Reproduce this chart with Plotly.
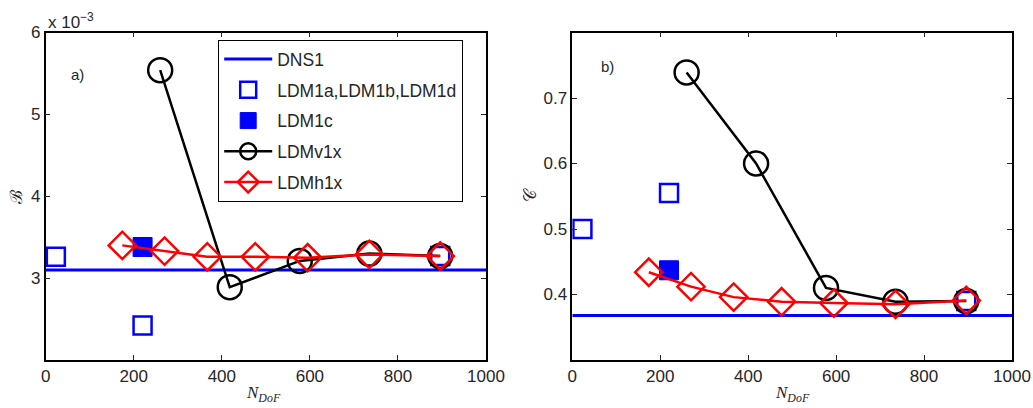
import plotly.graph_objects as go

# ---------------- data ----------------
dns_x = [0, 1000]
dns_B = [3.10, 3.10]
dns_C = [0.368, 0.368]

ldm_abd_x = [23, 220, 896]
ldm_abd_B = [3.26, 2.42, 3.27]
ldm_abd_C = [0.500, 0.555, 0.390]

ldm_c_x = [220]
ldm_c_B = [3.38]
ldm_c_C = [0.437]

v1x_x = [260, 418, 577, 735, 896]
v1x_B = [5.54, 2.89, 3.21, 3.30, 3.27]
v1x_C = [0.739, 0.600, 0.410, 0.389, 0.390]

h1x_x = [174, 270, 367, 476, 595, 735, 896]
h1x_B = [3.40, 3.33, 3.26, 3.26, 3.25, 3.29, 3.27]
h1x_C = [0.434, 0.412, 0.396, 0.389, 0.387, 0.385, 0.391]

x_ticks = [0, 200, 400, 600, 800, 1000]
B_ticks = [3, 4, 5, 6]
C_ticks = [0.4, 0.5, 0.6, 0.7]

BLUE = "#0000FF"
RED = "#FF0000"
BLACK = "#000000"

W, H = 1033, 408
OFF = 0  # body margin removed by post_script below


def px(x):
    return (x - OFF) / W


def py(y):
    return 1 - (y - OFF) / H


fig = go.Figure()


def add_panel(xa, ya, dns_y, abd_y, c_y, v_y, h_y, show):
    fig.add_trace(go.Scatter(x=dns_x, y=dns_y, mode="lines", name="DNS1", legendgroup="g1",
                             line=dict(color=BLUE, width=3), xaxis=xa, yaxis=ya,
                             showlegend=show))
    fig.add_trace(go.Scatter(x=ldm_abd_x, y=abd_y, mode="markers", name="LDM1a,LDM1b,LDM1d",
                             legendgroup="g2",
                             marker=dict(symbol="square-open", size=18, color=BLUE,
                                         line=dict(width=2.5, color=BLUE)),
                             xaxis=xa, yaxis=ya, showlegend=show))
    fig.add_trace(go.Scatter(x=ldm_c_x, y=c_y, mode="markers", name="LDM1c", legendgroup="g3",
                             marker=dict(symbol="square", size=19, color=BLUE,
                                         line=dict(width=1, color=BLUE)),
                             xaxis=xa, yaxis=ya, showlegend=show))
    fig.add_trace(go.Scatter(x=v1x_x, y=v_y, mode="lines+markers", name="LDMv1x", legendgroup="g4",
                             line=dict(color=BLACK, width=2.5),
                             marker=dict(symbol="circle-open", size=24, color=BLACK,
                                         line=dict(width=2.5, color=BLACK)),
                             xaxis=xa, yaxis=ya, showlegend=show))
    fig.add_trace(go.Scatter(x=h1x_x, y=h_y, mode="lines+markers", name="LDMh1x", legendgroup="g5",
                             line=dict(color=RED, width=2.5),
                             marker=dict(symbol="diamond-open", size=21, color=RED,
                                         line=dict(width=2.5, color=RED)),
                             xaxis=xa, yaxis=ya, showlegend=show))


add_panel("x", "y", dns_B, ldm_abd_B, ldm_c_B, v1x_B, h1x_B, True)
add_panel("x2", "y2", dns_C, ldm_abd_C, ldm_c_C, v1x_C, h1x_C, False)

SANS = "Liberation Sans, Arial, sans-serif"
font_main = dict(family=SANS, size=17, color="#262626")

axis_common = dict(showgrid=False, zeroline=False, showline=True, linecolor=BLACK,
                   linewidth=1.5, mirror="allticks", ticks="inside", ticklen=5,
                   tickwidth=1, tickcolor="#262626", tickfont=font_main, automargin=False,
                   ticklabeloverflow="allow")

ydom = [py(360), py(32.5)]

fig.update_layout(
    template="none",
    width=W, height=H,
    margin=dict(l=0, r=0, t=0, b=0),
    plot_bgcolor="white", paper_bgcolor="white",
    font=font_main,
    xaxis=dict(domain=[px(45.7), px(486)], range=[0, 1000], tickvals=x_ticks,
               anchor="y", **axis_common),
    yaxis=dict(domain=ydom, range=[2, 6], tickvals=B_ticks,
               anchor="x", **axis_common),
    xaxis2=dict(domain=[px(572.3), px(1012)], range=[0, 1000], tickvals=x_ticks,
                anchor="y2", **axis_common),
    yaxis2=dict(domain=ydom, range=[0.3, 0.8], tickvals=C_ticks,
                tickformat=".1f", anchor="x2", **axis_common),
    legend=dict(x=px(218), y=py(40), xanchor="left", yanchor="top",
                bgcolor="white", bordercolor=BLACK, borderwidth=1.2,
                font=dict(family=SANS, size=17.5, color="#262626"),
                itemwidth=48, tracegroupgap=5),
    showlegend=True,
)

serif_it = dict(family="Liberation Serif, DejaVu Serif, serif", size=17, color="#262626")

annotations = [
    dict(text="x 10<sup>−3</sup>", x=px(46), y=py(21), xref="paper", yref="paper",
         xanchor="left", yanchor="middle", showarrow=False, font=font_main),
    dict(text="a)", x=72, y=5.49, xref="x", yref="y", xanchor="center", yanchor="middle",
         showarrow=False, font=dict(family=SANS, size=15, color="#262626")),
    dict(text="b)", x=79, y=0.748, xref="x2", yref="y2", xanchor="center", yanchor="middle",
         showarrow=False, font=dict(family=SANS, size=15, color="#262626")),
    dict(text="<i>N<sub>DoF</sub></i>", x=px(263), y=py(394), xref="paper", yref="paper",
         xanchor="center", yanchor="middle", showarrow=False, font=serif_it),
    dict(text="<i>N<sub>DoF</sub></i>", x=px(792), y=py(394), xref="paper", yref="paper",
         xanchor="center", yanchor="middle", showarrow=False, font=serif_it),
    dict(text="ℬ", x=px(16), y=py(197), xref="paper", yref="paper",
         xanchor="center", yanchor="middle", textangle=-90, showarrow=False, font=serif_it),
    dict(text="𝒞", x=px(530), y=py(195), xref="paper", yref="paper",
         xanchor="center", yanchor="middle", textangle=-90, showarrow=False, font=serif_it),
]
fig.update_layout(annotations=annotations)

fig.write_html(
    "out.html",
    config={"displayModeBar": False},
    post_script="document.body.style.margin='0px';document.body.style.overflow='hidden';",
)
